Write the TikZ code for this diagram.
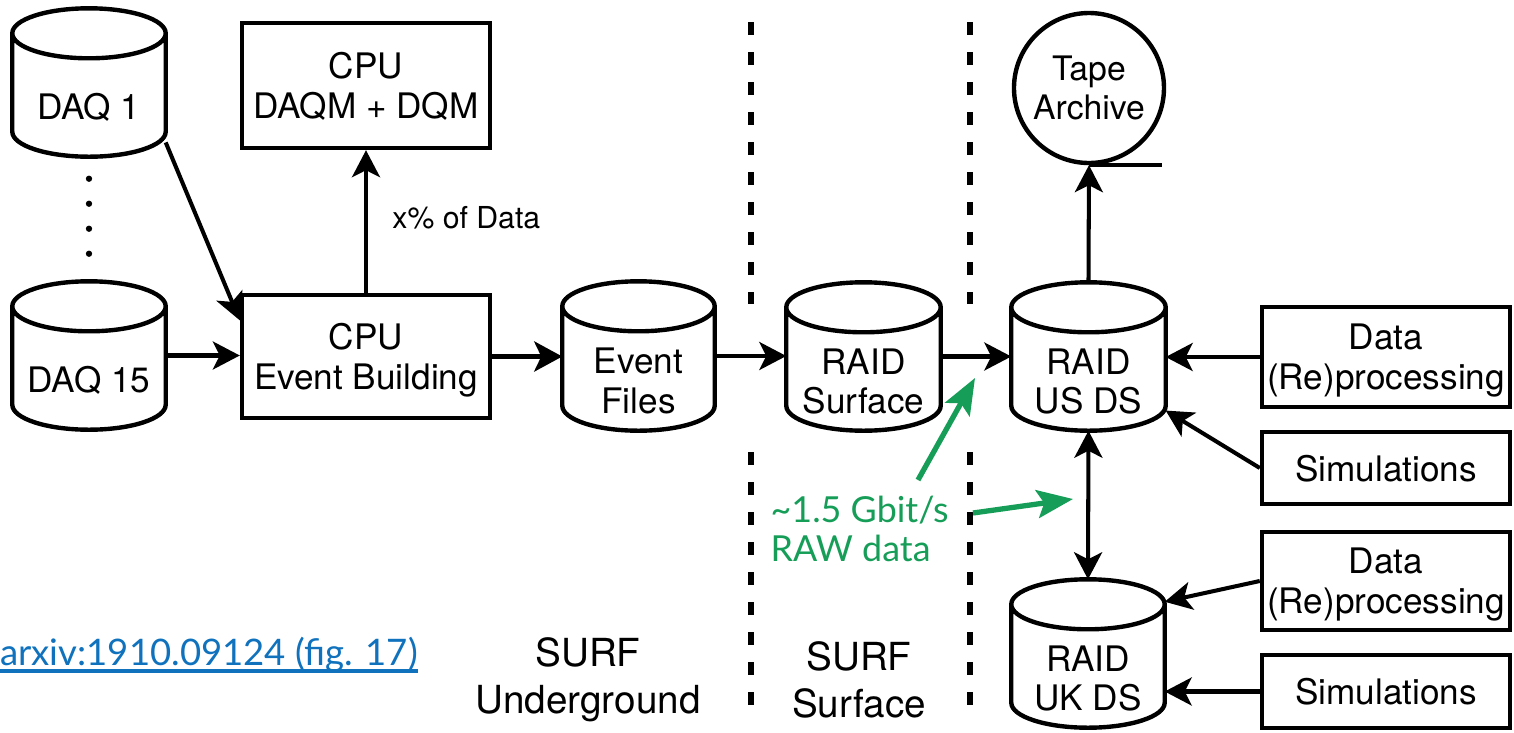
\documentclass[tikz,border=0pt]{standalone}
\usepackage{fontspec}
\setmainfont{TeX Gyre Heros}
\newfontfamily\latofont{Lato}
\usetikzlibrary{arrows.meta,calc}

\definecolor{ratetext}{RGB}{22,158,88}
\definecolor{linkblue}{RGB}{16,114,189}

% vertical radius of the elliptic ends of the storage cylinders
\newcommand\cry{0.25cm}
% draws a storage cylinder filling the rectangle of node #1
\newcommand\cylinderoutline[1]{%
  \draw[outline] let \p1=(#1.north west), \p2=(#1.south east),
      \n1={(\x2-\x1)/2} in
    (\x1,\y1-\cry) -- (\x1,\y2+\cry)
    arc[start angle=180,end angle=360,x radius=\n1,y radius=\cry]
    -- (\x2,\y1-\cry)
    arc[start angle=0,end angle=180,x radius=\n1,y radius=\cry] -- cycle
    (\x1,\y1-\cry)
    arc[start angle=180,end angle=360,x radius=\n1,y radius=\cry];}

\tikzset{
  flowtip/.tip={Stealth[length=0.27cm,width=0.28cm,inset=0.07cm]},
  every node/.style={font=\fontsize{10}{11.3}\selectfont},
  outline/.style={line width=1.25pt},
  box/.style={draw, outline, minimum width=2.48cm, align=center, inner sep=0pt, text depth=0pt},
  store/.style={minimum width=1.52cm, minimum height=1.47cm, inner sep=0pt},
  storetext/.style={align=center, yshift=-\cry, inner sep=0pt},
  flow/.style={line width=1.15pt, -{flowtip}},
  bigflow/.style={line width=1.7pt, -{Stealth[length=0.28cm,width=0.30cm,inset=0.07cm]}},
  twoway/.style={line width=1.15pt, {flowtip}-{flowtip}},
  rateflow/.style={ratetext, line width=1.5pt, -{Stealth[length=0.36cm,width=0.28cm,inset=0.07cm]}},
  border/.style={line width=1.5pt, dash pattern=on 0.13cm off 0.17cm},
  dotline/.style={line width=1.8pt, line cap=round, dash pattern=on 0pt off 0.25cm},
  zone/.style={align=center, font=\fontsize{11}{13.3}\selectfont},
}

\begin{document}
\begin{tikzpicture}
\useasboundingbox (0,0) rectangle (15.14,7.32);

% site borders
\draw[border] (7.51,7.10) -- (7.51,4.28);
\draw[border] (7.51,2.80) -- (7.51,0.18);
\draw[border] (9.70,7.10) -- (9.70,4.28);
\draw[border] (9.70,2.80) -- (9.70,0.18);

% DAQ readout
\node[store, label={[name=daq1-text, storetext]center:DAQ 1}] (daq1) at (0.89,6.495) {};
\node[store, label={[name=daq15-text, storetext]center:DAQ 15}] (daq15) at (0.89,3.765) {};
\cylinderoutline{daq1}
\cylinderoutline{daq15}
\draw[dotline, shorten <=0.22cm, shorten >=0.05cm] (daq1.south) -- (daq15.north);

% processing boxes
\node[box, minimum height=1.25cm] (monitor) at (3.66,6.465) {CPU\\DAQM + DQM};
\node[box, minimum height=1.23cm] (builder) at (3.66,3.755) {CPU\\Event Building};
\node[anchor=west, font=\fontsize{8.6}{10}\selectfont] (share) at (3.80,5.14) {x\% of Data};

% storage chain
\node[store, minimum width=1.51cm, minimum height=1.48cm,
      label={[name=events-text, storetext]center:Event\\Files}] (events) at (6.385,3.76) {};
\node[store, minimum width=1.53cm,
      label={[name=surface-text, storetext]center:RAID\\Surface}] (surface) at (8.635,3.755) {};
\node[store, minimum width=1.53cm,
      label={[name=usds-text, storetext]center:RAID\\US DS}] (usds) at (10.885,3.755) {};
\node[store, label={[name=ukds-text, storetext]center:RAID\\UK DS}] (ukds) at (10.88,0.785) {};
\cylinderoutline{events}
\cylinderoutline{surface}
\cylinderoutline{usds}
\cylinderoutline{ukds}

% tape archive
\node[draw, outline, circle, minimum size=1.5cm, inner sep=0pt, align=center,
      font=\fontsize{9.6}{10.9}\selectfont] (tape) at (10.89,6.44) {Tape\\Archive};
\draw[outline] (tape.south) -- ++(0.73,0);

% external producers
\node[box, minimum height=1.00cm] (reproc1) at (13.86,3.75) {Data\\(Re)processing};
\node[box, minimum height=0.72cm] (sim1) at (13.86,2.64) {Simulations};
\node[box, minimum height=0.98cm] (reproc2) at (13.86,1.51) {Data\\(Re)processing};
\node[box, minimum height=0.73cm] (sim2) at (13.86,0.405) {Simulations};

% data flow
\draw[flow] (daq1.-38) -- (builder.164);
\draw[flow] (daq15.east) -- (daq15.east -| builder.west);
\draw[flow] (builder.north) -- (monitor.south);
\draw[bigflow] (builder.east) -- (builder.east -| events.west);
\draw[flow] (events.east) -- (events.east -| surface.west);
\draw[flow] (surface.east) -- (surface.east -| usds.west);
\draw[flow] (usds.north) -- (tape.south);
\draw[twoway] (usds.south) -- (ukds.north);
\draw[flow] (reproc1.west) -- (reproc1.west -| usds.east);
\draw[flow] (sim1.west) -- (usds.-35);
\draw[flow] (reproc2.west) -- (ukds.34);
\draw[flow] (sim2.west) -- (sim2.west -| ukds.east);

% link rate annotation
\node[anchor=west, align=left, text=ratetext, inner sep=0pt,
      font=\latofont\fontsize{10.2}{10.9}\selectfont] (rate) at (7.70,2.03)
      {\textasciitilde 1.5 Gbit/s\\RAW data};
\coordinate (rate-up) at (9.18,2.52);
\coordinate (rate-side) at (9.73,2.19);
\coordinate (rate-up-end) at (9.75,3.54);
\coordinate (rate-side-end) at (10.73,2.33);
\draw[rateflow] (rate-up) -- (rate-up-end);
\draw[rateflow] (rate-side) -- (rate-side-end);

% site names
\node[zone] (underground) at (5.88,0.52) {SURF\\Underground};
\node[zone] (surfsite) at (8.59,0.52) {SURF\\Surface};

% reference
\node[anchor=base west, inner sep=0pt, text=linkblue,
      font=\latofont\fontsize{10.4}{13}\selectfont] (ref) at (-0.005,0.67)
      {arxiv:1910.09124 (fig. 17)};
\draw[linkblue, line width=0.9pt] ($(ref.base west)+(0,-0.06)$) -- ($(ref.base east)+(0,-0.06)$);
\end{tikzpicture}
\end{document}
